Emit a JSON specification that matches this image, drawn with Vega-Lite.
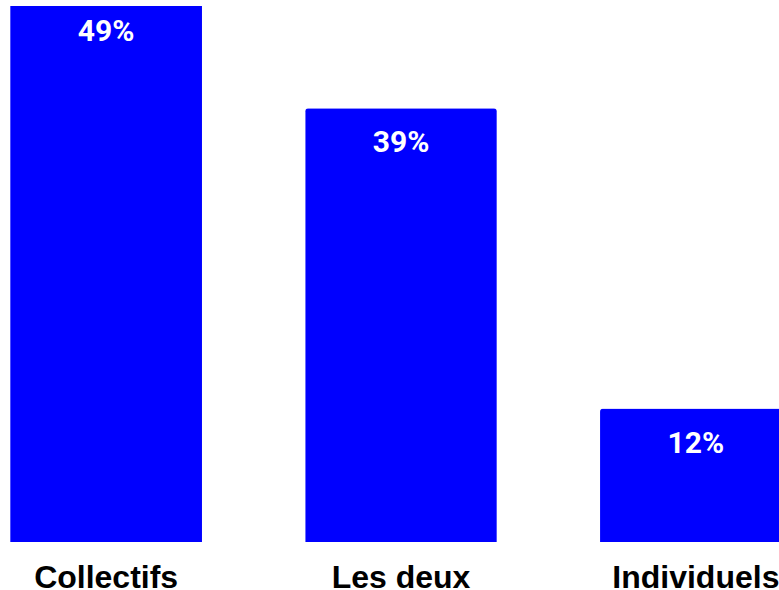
{
  "$schema": "https://vega.github.io/schema/vega-lite/v6.json",
  "width": 779,
  "height": 536,
  "autosize": {"type": "none"},
  "padding": {"left": 0, "top": 6, "right": 0, "bottom": 48},
  "background": "white",
  "config": {"view": {"stroke": null}},
  "data": {
    "values": [
      {"cat": "Collectifs", "pct": 49, "label": "49%"},
      {"cat": "Les deux", "pct": 39, "label": "39%"},
      {"cat": "Individuels", "pct": 12, "label": "12%"}
    ]
  },
  "encoding": {
    "x": {
      "field": "cat",
      "type": "nominal",
      "sort": ["Collectifs", "Les deux", "Individuels"],
      "scale": {"range": [0, 802], "paddingInner": 0.35, "paddingOuter": 0.035},
      "axis": {
        "title": null,
        "domain": false,
        "ticks": false,
        "labelAngle": 0,
        "labelFont": "Liberation Sans",
        "labelFontWeight": "bold",
        "labelFontSize": 32,
        "labelColor": "black",
        "labelBaseline": "alphabetic",
        "labelPadding": 45,
        "labelOverlap": false,
        "labelLimit": 0
      }
    }
  },
  "layer": [
    {
      "transform": [{"filter": "datum.pct < 48.2"}],
      "mark": {"type": "bar", "color": "#0000FF", "cornerRadiusTopLeft": 3, "cornerRadiusTopRight": 3},
      "encoding": {
        "y": {
          "field": "pct",
          "type": "quantitative",
          "scale": {"domain": [0, 48.2], "nice": false, "clamp": true},
          "axis": null
        }
      }
    },
    {
      "transform": [{"filter": "datum.pct >= 48.2"}],
      "mark": {"type": "bar", "color": "#0000FF"},
      "encoding": {
        "y": {
          "field": "pct",
          "type": "quantitative",
          "scale": {"domain": [0, 48.2], "nice": false, "clamp": true},
          "axis": null
        }
      }
    },
    {
      "mark": {
        "type": "text",
        "color": "white",
        "font": "Roboto",
        "fontWeight": "bold",
        "fontSize": 30,
        "baseline": "alphabetic",
        "align": "center",
        "dy": 44
      },
      "encoding": {
        "y": {
          "field": "pct",
          "type": "quantitative",
          "scale": {"domain": [0, 48.2], "nice": false},
          "axis": null
        },
        "text": {"field": "label"}
      }
    }
  ],
  "resolve": {"scale": {"y": "independent"}}
}
